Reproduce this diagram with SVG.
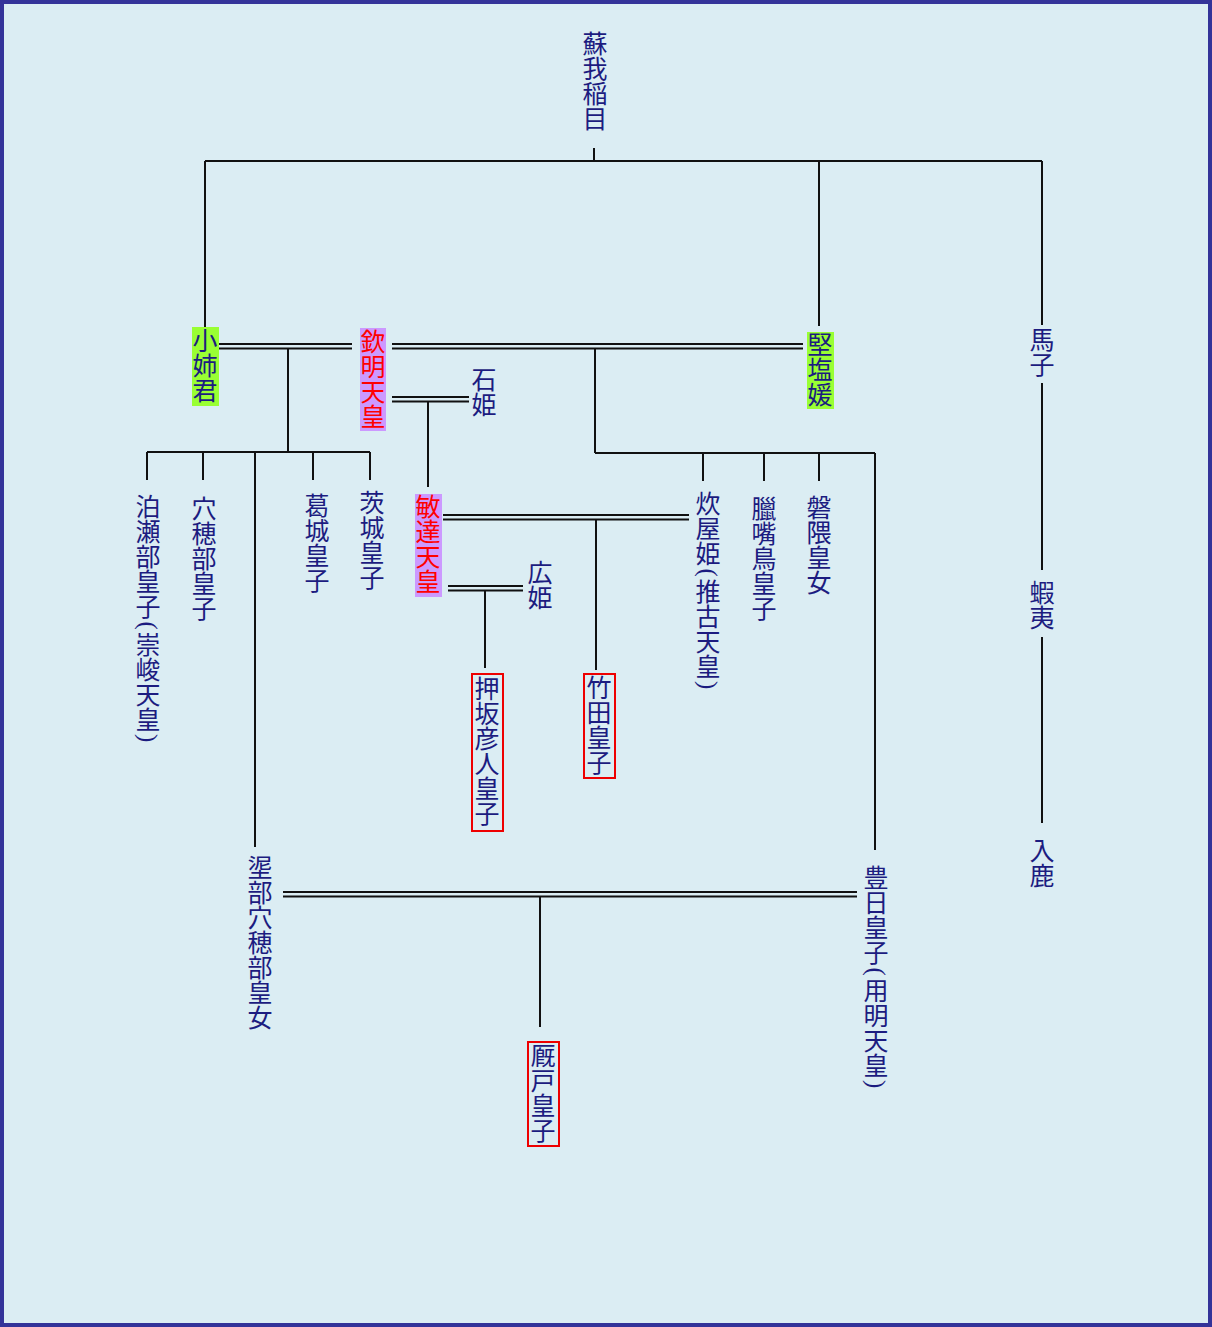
<svg xmlns="http://www.w3.org/2000/svg" width="1212" height="1327" viewBox="0 0 1212 1327">
  <style>
    .bg { fill: #dbedf3; stroke: #333399; stroke-width: 4; }
    .name { font-family: "Noto Sans CJK JP", "Noto Sans CJK SC", sans-serif; font-size: 25px; fill: #1c1c80; writing-mode: vertical-rl; text-anchor: start; }
    .paren { font-family: "Liberation Serif", serif; }
    .ruler { fill: #ff0000; }
    .hl-green { fill: #99ff33; }
    .hl-violet { fill: #cc99ff; }
    .box { fill: none; stroke: #ee0000; stroke-width: 2; }
    .lines path { fill: none; stroke: #111111; stroke-width: 2; }
  </style>

  <rect class="bg" x="2" y="2" width="1208" height="1323"/>

  <!-- lineage connectors: single lines = descent, paired lines = marriage -->
  <g class="lines" id="connectors">
    <path d="M594 148 V161 M205 161 H1042 M205 161 V328 M819 161 V326 M1042 161 V325"/>
    <path d="M1042 383 V570 M1042 637 V823"/>
    <path d="M215 344 H352 M215 348.5 H352"/>
    <path d="M288 348 V452 M147 452 H370 M147 452 V480 M203 452 V480 M313 452 V480 M370 452 V480 M255 452 V847"/>
    <path d="M392 344 H803 M392 348.5 H803"/>
    <path d="M595 348 V453 M595 453 H875 M703 453 V481 M764 453 V481 M819 453 V481 M875 453 V850"/>
    <path d="M392 397 H469 M392 401.5 H469 M428 401 V487"/>
    <path d="M443 515 H689 M443 519.5 H689 M596 519 V670"/>
    <path d="M448 586 H523 M448 590.5 H523 M485 590 V668"/>
    <path d="M283 892 H857 M283 896.5 H857 M540 896 V1027"/>
  </g>

  <g id="n-soga-iname"><text class="name" x="595" y="31">蘇我稲目</text></g>
  <g id="n-oane"><rect class="hl-green" x="192" y="327" width="27" height="79"/><text class="name" x="205" y="328">小姉君</text></g>
  <g id="n-kinmei"><rect class="hl-violet" x="360" y="328" width="26" height="103"/><text class="name ruler" x="373" y="329">欽明天皇</text></g>
  <g id="n-kitashi"><rect class="hl-green" x="807" y="332" width="27" height="77"/><text class="name" x="820" y="332">堅塩媛</text></g>
  <g id="n-umako"><text class="name" x="1042" y="327">馬子</text></g>
  <g id="n-ishihime"><text class="name" x="484" y="367">石姫</text></g>
  <g id="n-hatsusebe"><text class="name" x="148" y="494">泊瀬部皇子<tspan class="paren" dy="2.5">(</tspan><tspan dy="2.5">崇峻天皇</tspan><tspan class="paren" dy="2">)</tspan></text></g>
  <g id="n-anahobe"><text class="name" x="204" y="496">穴穂部皇子</text></g>
  <g id="n-katsuragi"><text class="name" x="317" y="493">葛城皇子</text></g>
  <g id="n-umaraki"><text class="name" x="372" y="490">茨城皇子</text></g>
  <g id="n-bidatsu"><rect class="hl-violet" x="415" y="494" width="27" height="103"/><text class="name ruler" x="428" y="494">敏達天皇</text></g>
  <g id="n-kashikiya"><text class="name" x="708" y="491">炊屋姫<tspan class="paren" dy="2.5">(</tspan><tspan dy="2.5">推古天皇</tspan><tspan class="paren" dy="2">)</tspan></text></g>
  <g id="n-atori"><text class="name" x="764" y="496">臘嘴鳥皇子</text></g>
  <g id="n-iwakuma"><text class="name" x="819" y="495">磐隈皇女</text></g>
  <g id="n-hirohime"><text class="name" x="540" y="560">広姫</text></g>
  <g id="n-oshisaka"><rect class="box" x="472" y="674" width="31" height="157"/><text class="name" x="487" y="676">押坂彦人皇子</text></g>
  <g id="n-takeda"><rect class="box" x="584" y="674" width="31" height="104"/><text class="name" x="599" y="675">竹田皇子</text></g>
  <g id="n-emishi"><text class="name" x="1042" y="580">蝦夷</text></g>
  <g id="n-iruka"><text class="name" x="1042" y="838">入鹿</text></g>
  <g id="n-hashihito"><text class="name" x="260" y="855">埿部穴穂部皇女</text></g>
  <g id="n-toyohi"><text class="name" x="876" y="865">豊日皇子<tspan class="paren" dy="2.5">(</tspan><tspan dy="2.5">用明天皇</tspan><tspan class="paren" dy="2">)</tspan></text></g>
  <g id="n-umayado"><rect class="box" x="528" y="1042" width="31" height="104"/><text class="name" x="543" y="1043">厩戸皇子</text></g>
</svg>
